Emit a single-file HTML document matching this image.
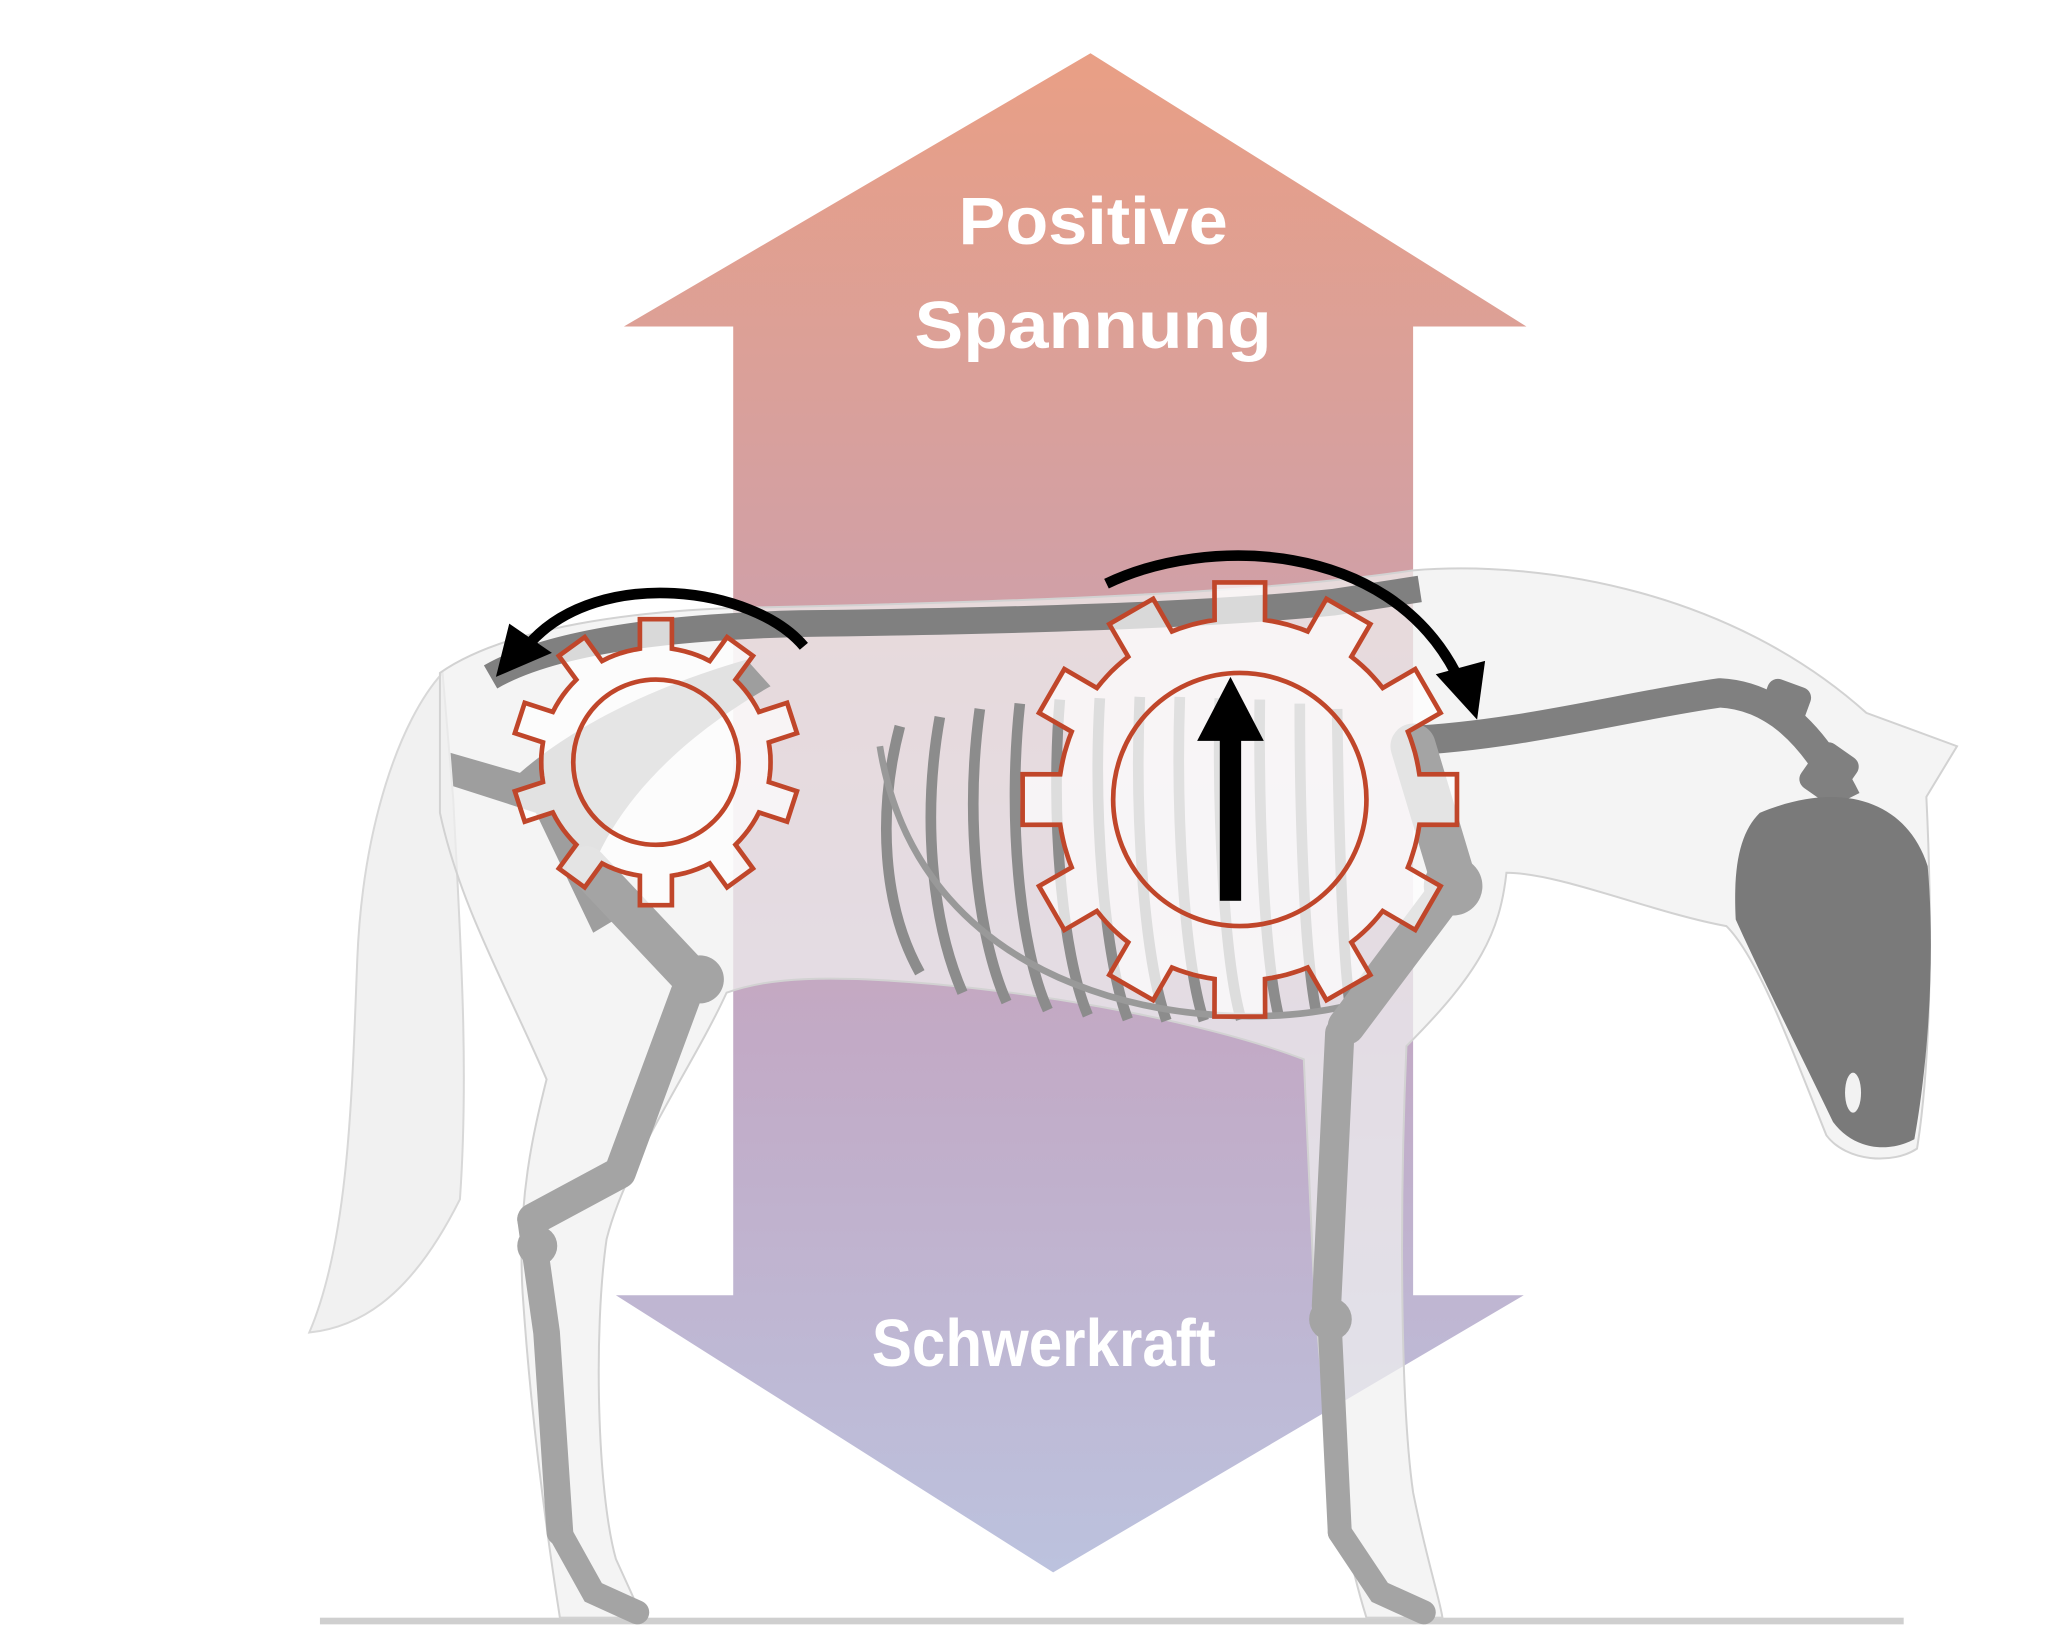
<!DOCTYPE html>
<html><head><meta charset="utf-8"><style>
html,body{margin:0;padding:0;background:#fff;}
svg{display:block}
text{font-family:"Liberation Sans",sans-serif;font-weight:bold;fill:#fff;text-anchor:middle}
</style></head><body>
<svg width="2069" height="1647" viewBox="0 0 1552 1236" preserveAspectRatio="none" xmlns="http://www.w3.org/2000/svg">
<defs>
<linearGradient id="g" x1="0" y1="0" x2="0" y2="1">
<stop offset="0" stop-color="#e99f85"/>
<stop offset="0.35" stop-color="#d1a0a6"/>
<stop offset="0.65" stop-color="#c2aac6"/>
<stop offset="1" stop-color="#bcc2de"/>
</linearGradient>
</defs>
<rect width="1552" height="1236" fill="#fff"/>
<polygon points="818,40 1145,245 1060,245 1060,972 1143,972 790,1180 462,972 550,972 550,245 468,245" fill="url(#g)"/>
<text x="820" y="183" font-size="50" textLength="202" lengthAdjust="spacingAndGlyphs">Positive</text>
<text x="820" y="261" font-size="50" textLength="268" lengthAdjust="spacingAndGlyphs">Spannung</text>
<text x="783" y="1025" font-size="50" textLength="258" lengthAdjust="spacingAndGlyphs">Schwerkraft</text>
<rect x="240" y="1214" width="1188" height="5" fill="#cfcfcf"/>

<!-- tail -->
<path d="M332,505 C300,540 272,620 268,720 C264,820 262,930 232,1000 C280,995 315,960 345,900 C352,800 345,700 340,600 Z" fill="#eeeeee" fill-opacity="0.85" stroke="#d8d8d8" stroke-width="1.5"/>
<!-- body -->
<path d="M330,505 C380,470 480,458 560,456 C760,452 950,445 1060,428 C1160,420 1300,445 1400,535 L1468,560 L1445,598 C1450,700 1448,800 1438,862 C1420,874 1385,872 1370,852 C1345,790 1320,720 1295,695 C1240,685 1170,655 1130,655 C1125,700 1110,730 1055,785 C1050,900 1050,1050 1060,1120 C1070,1170 1080,1200 1082,1214 L1025,1214 C1005,1150 990,1050 985,950 L978,795 C900,765 760,740 650,735 C600,733 570,736 545,745 C520,800 470,870 455,930 C445,1000 448,1120 462,1170 L482,1214 L420,1214 C410,1150 398,1060 392,970 C388,900 400,850 410,810 C380,740 345,680 330,610 Z" fill="#f0f0f0" fill-opacity="0.72" stroke="#d2d2d2" stroke-width="1.5"/>

<!-- spine -->
<path d="M368,508 C420,478 520,470 600,468 C760,466 900,462 1000,452 L1065,442" stroke="#808080" stroke-width="20" fill="none"/>
<path d="M1055,556 C1140,552 1220,530 1290,520 C1330,522 1360,550 1385,600" stroke="#808080" stroke-width="22" fill="none"/>
<rect x="1322" y="512" width="34" height="34" rx="8" fill="#808080" transform="rotate(20 1339 529)"/>
<rect x="1355" y="560" width="34" height="40" rx="8" fill="#808080" transform="rotate(35 1372 580)"/>
<!-- skull -->
<path d="M1320,610 C1380,585 1430,600 1446,650 C1452,720 1446,800 1436,855 C1415,866 1390,862 1375,842 C1350,790 1320,730 1302,690 C1300,650 1305,625 1320,610 Z" fill="#7a7a7a"/>
<ellipse cx="1390" cy="820" rx="6" ry="15" fill="#f2f2f2"/>
<!-- ribs -->
<g stroke="#8c8c8c" stroke-width="8" fill="none">
<path d="M675,545 C658,610 662,680 690,730"/>
<path d="M705,538 C692,610 698,690 722,745"/>
<path d="M735,532 C724,610 732,700 755,752"/>
<path d="M765,528 C756,610 764,710 786,758"/>
<path d="M795,525 C788,610 796,715 816,762"/>
<path d="M825,524 C820,610 828,718 846,765"/>
<path d="M855,523 C851,610 858,720 875,766"/>
<path d="M885,523 C882,610 888,720 903,766"/>
<path d="M915,524 C913,610 918,720 931,765"/>
<path d="M945,525 C944,610 948,715 959,762"/>
<path d="M975,528 C975,610 978,710 987,758"/>
<path d="M1003,532 C1004,610 1006,700 1012,750"/>
</g>
<path d="M660,560 C690,750 900,780 1010,755" stroke="#999" stroke-width="5" fill="none"/>
<!-- pelvis -->
<path d="M338,565 L390,580 C430,545 490,515 560,495 L578,515 C525,545 470,590 445,650 L470,685 L445,700 L402,610 L340,590 Z" fill="#9e9e9e"/>
<!-- hind leg bones -->
<g stroke="#a4a4a4" stroke-linecap="round" fill="none">
<path d="M440,650 L520,735" stroke-width="30"/>
<path d="M515,745 L465,880 L400,915" stroke-width="24" stroke-linejoin="round"/>
<path d="M398,915 L410,1000 L420,1150" stroke-width="20"/>
<path d="M420,1150 L445,1195 L478,1210" stroke-width="18"/>
</g>
<circle cx="525" cy="735" r="18" fill="#a4a4a4"/>
<circle cx="403" cy="935" r="15" fill="#a4a4a4"/>
<!-- front leg bones -->
<g stroke="#a4a4a4" stroke-linecap="round" fill="none">
<path d="M1060,560 L1090,660" stroke-width="34"/>
<path d="M1085,670 L1010,770" stroke-width="28"/>
<path d="M1005,775 L995,980" stroke-width="22"/>
<path d="M997,985 L1005,1150" stroke-width="18"/>
<path d="M1005,1150 L1035,1195 L1068,1210" stroke-width="18"/>
</g>
<circle cx="1090" cy="665" r="22" fill="#a4a4a4"/>
<circle cx="998" cy="990" r="16" fill="#a4a4a4"/>

<!-- gears -->
<g id="gears"></g>
<!-- inner arrow -->
<rect x="915" y="548" width="16" height="128" fill="#000"/>
<polygon points="923,508 898,556 948,556" fill="#000"/>
<!-- curved arrows -->
<path d="M603,485 C565,440 450,425 398,482" stroke="#000" stroke-width="8" fill="none"/>
<polygon points="372,508 382,468 414,490" fill="#000"/>
<path d="M830,438 C905,402 1040,405 1092,505" stroke="#000" stroke-width="8" fill="none"/>
<polygon points="1108,540 1077,506 1114,496" fill="#000"/>
</svg>
<script>
function gear(cx,cy,R,r,n,tw,ir){
 var d="",step=2*Math.PI/n,ns="http://www.w3.org/2000/svg",first=true;
 function pt(a,rad){var s=(first?"M":"L")+(cx+rad*Math.cos(a)).toFixed(1)+","+(cy+rad*Math.sin(a)).toFixed(1);first=false;return s;}
 for(var i=0;i<n;i++){
  var a=i*step-Math.PI/2;
  var ho=tw/2/R, hi=tw/2/r;
  d+=pt(a-hi,r)+pt(a-ho,R)+pt(a+ho,R)+pt(a+hi,r);
  var a2=a+step-hi, a1=a+hi;
  for(var k=1;k<=6;k++){d+=pt(a1+(a2-a1)*k/6,r);}
 }
 d+="Z";
 var g=document.getElementById("gears");
 var p=document.createElementNS(ns,"path");p.setAttribute("d",d);p.setAttribute("fill","#fff");p.setAttribute("fill-opacity","0.7");p.setAttribute("stroke","#c0462a");p.setAttribute("stroke-width","3.5");g.appendChild(p);
 var c=document.createElementNS(ns,"circle");c.setAttribute("cx",cx);c.setAttribute("cy",cy);c.setAttribute("r",ir);c.setAttribute("fill","#fff");c.setAttribute("fill-opacity","0.1");c.setAttribute("stroke","#c0462a");c.setAttribute("stroke-width","3.5");g.appendChild(c);
}
gear(492,572,108,86,10,24,62);
gear(930,600,164,136,12,38,95);
</script>
</body></html>
